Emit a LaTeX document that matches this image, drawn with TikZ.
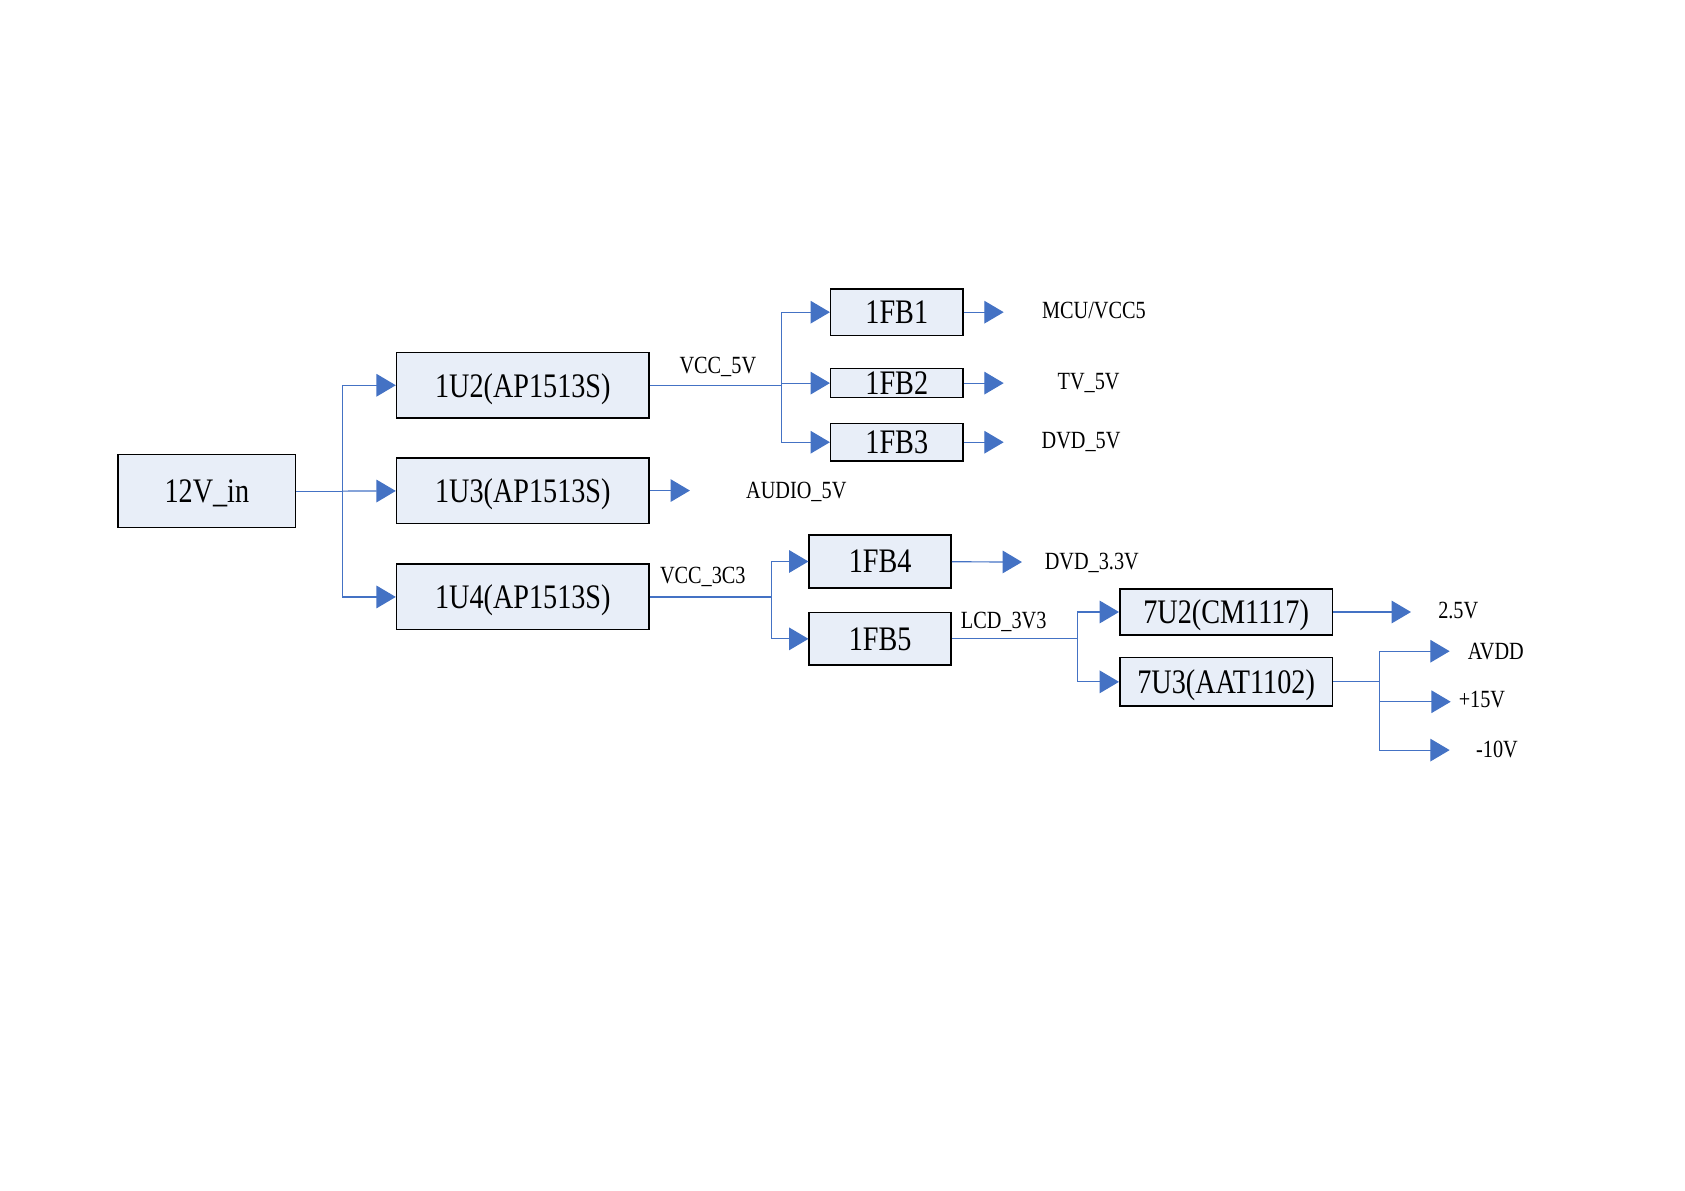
\documentclass[tikz,border=0pt]{standalone}
\usepackage{fontspec}
\setmainfont[FakeStretch=0.82]{Liberation Serif}
\usetikzlibrary{arrows.meta, positioning}
\definecolor{wireblue}{HTML}{4472C4}
\definecolor{boxfill}{HTML}{E8EEF8}

\begin{document}
\begin{tikzpicture}[x=0.5pt, y=-0.5pt]
	\tikzset {box/.style={draw=black, line width=0.7pt, fill=boxfill, inner sep=0pt, text depth=0pt, font=\fontsize{16}{18}\selectfont},
		lbl/.style={inner sep=0pt, text depth=0pt, font=\fontsize{11.5}{13}\selectfont},
		wire/.style={draw=wireblue, line width=0.55pt},
		arr/.style={-{Triangle[length=9pt, width=10.5pt]}} }
	\useasboundingbox (0,0) rectangle (1568,1108);

	% blocks
	\node[box, minimum width=82.5pt, minimum height=34pt] (in12) at (192.5,457) {12V\_in};
	\node[box, minimum width=117.5pt, minimum height=30.5pt] (u2) at (486.5,358.5) {1U2(AP1513S)};
	\node[box, minimum width=117.5pt, minimum height=30.5pt] (u3) at (486.5,456.5) {1U3(AP1513S)};
	\node[box, minimum width=117.5pt, minimum height=30.5pt] (u4) at (486.5,555.5) {1U4(AP1513S)};
	\node[box, minimum width=61.5pt, minimum height=21.5pt] (fb1) at (834.5,290.5) {1FB1};
	\node[box, minimum width=61.5pt, minimum height=13.5pt] (fb2) at (834.5,356.5) {1FB2};
	\node[box, minimum width=61.5pt, minimum height=17.5pt] (fb3) at (834.5,411.5) {1FB3};
	\node[box, minimum width=66pt, minimum height=24.5pt] (fb4) at (819,522.5) {1FB4};
	\node[box, minimum width=66pt, minimum height=24.5pt] (fb5) at (819,594.5) {1FB5};
	\node[box, minimum width=99pt, minimum height=21.5pt] (cm) at (1141,569.5) {7U2(CM1117)};
	\node[box, minimum width=99pt, minimum height=22.5pt] (aat) at (1141,634.5) {7U3(AAT1102)};

	% rail names
	\node[lbl] (vcc5) at (668,340) {VCC\_5V};
	\node[lbl] (vcc33) at (654,535) {VCC\_3C3};
	\node[lbl] (lcd) at (934,577) {LCD\_3V3};
	\node[lbl] (mcu) at (1018,289) {MCU/VCC5};
	\node[lbl] (tv) at (1013,355) {TV\_5V};
	\node[lbl] (dvd5) at (1006,410) {DVD\_5V};
	\node[lbl] (audio) at (741,456) {AUDIO\_5V};
	\node[lbl] (dvd33) at (1016,522) {DVD\_3.3V};
	\node[lbl] (v25) at (1357,568) {2.5V};
	\node[lbl] (avdd) at (1392,606) {AVDD};
	\node[lbl] (p15) at (1379,651) {+15V};
	\node[lbl] (m10) at (1393,697) {-10V};

	% junctions and arrow ends
	\coordinate (j0) at (319,457);
	\coordinate (j1) at (727,358.5);
	\coordinate (j2) at (718,555.5);
	\coordinate (j3) at (1003,594.5);
	\coordinate (j4) at (1284,634.5);
	\coordinate (t1) at (934,290.5);
	\coordinate (t2) at (934,356.5);
	\coordinate (t3) at (934,411.5);
	\coordinate (ta) at (642,456.5);
	\coordinate (t4) at (951,523);
	\coordinate (t25) at (1313,569.5);
	\coordinate (tav) at (1349,606);
	\coordinate (t15) at (1350,653);
	\coordinate (t10) at (1349,698);

	\draw[wire] (in12) -- (j0);
	\draw[wire, arr] (j0) |- (u2);
	\draw[wire, arr] (j0) -- (u3);
	\draw[wire, arr] (j0) |- (u4);

	\draw[wire] (u2) -- (j1);
	\draw[wire, arr] (j1) |- (fb1);
	\draw[wire, arr] (j1) |- (fb2);
	\draw[wire, arr] (j1) |- (fb3);
	\draw[wire, arr] (fb1) -- (t1);
	\draw[wire, arr] (fb2) -- (t2);
	\draw[wire, arr] (fb3) -- (t3);

	\draw[wire, arr] (u3) -- (ta);

	\draw[wire] (u4) -- (j2);
	\draw[wire, arr] (j2) |- (fb4);
	\draw[wire, arr] (j2) |- (fb5);
	\draw[wire, arr] (fb4) -- (t4);

	\draw[wire] (fb5) -- (j3);
	\draw[wire, arr] (j3) |- (cm);
	\draw[wire, arr] (j3) |- (aat);
	\draw[wire, arr] (cm) -- (t25);

	\draw[wire] (aat) -- (j4);
	\draw[wire, arr] (j4) |- (tav);
	\draw[wire, arr] (j4) |- (t15);
	\draw[wire, arr] (j4) |- (t10);
\end{tikzpicture}
\end{document}
